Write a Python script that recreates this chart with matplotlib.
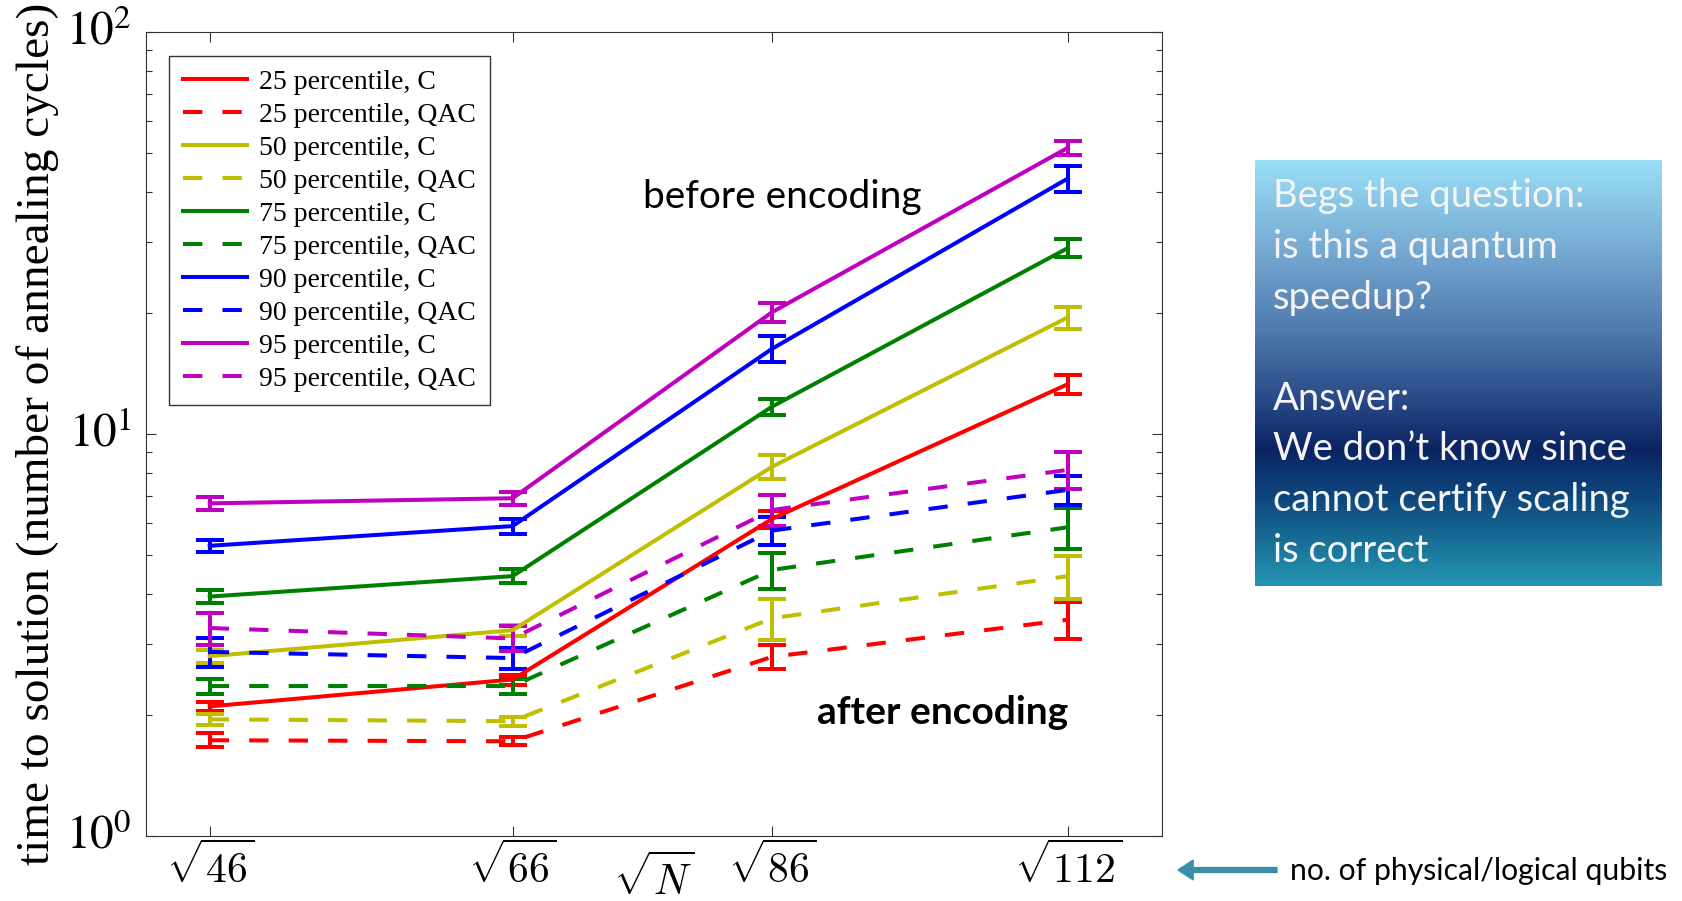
import numpy as np
import matplotlib
matplotlib.use("Agg")
import matplotlib.pyplot as plt
from matplotlib.colors import LinearSegmentedColormap
from matplotlib.ticker import FixedLocator, LogLocator, NullFormatter

# problem sizes (number of qubits) on the sqrt(N) axis
sizes = [46, 66, 86, 112]
size_labels = [r"$\sqrt{46}$", r"$\sqrt{66}$", r"$\sqrt{86}$", r"$\sqrt{112}$"]

percentiles = [25, 50, 75, 90, 95]
colors = ["#ff0000", "#bfbf00", "#008000", "#0000ff", "#bf00bf"]

# time to solution, classical (C) runs
tts_c_25 = [2.10, 2.45, 6.15, 13.3]
tts_c_50 = [2.80, 3.25, 8.29, 19.5]
tts_c_75 = [3.94, 4.43, 11.7, 29.0]
tts_c_90 = [5.27, 5.90, 16.3, 43.2]
tts_c_95 = [6.72, 6.92, 20.1, 51.5]

err_c_25 = [0.06, 0.07, 0.30, 0.75]
err_c_50 = [0.10, 0.10, 0.56, 1.25]
err_c_75 = [0.14, 0.18, 0.55, 1.50]
err_c_90 = [0.19, 0.25, 1.20, 3.10]
err_c_95 = [0.25, 0.27, 1.10, 2.00]

# time to solution, quantum annealing correction (QAC) runs
tts_q_25 = [1.73, 1.72, 2.79, 3.45]
tts_q_50 = [1.95, 1.93, 3.48, 4.43]
tts_q_75 = [2.36, 2.36, 4.59, 5.86]
tts_q_90 = [2.87, 2.77, 5.75, 7.26]
tts_q_95 = [3.29, 3.10, 6.47, 8.14]

err_q_25 = [0.07, 0.04, 0.19, 0.36]
err_q_50 = [0.06, 0.05, 0.40, 0.55]
err_q_75 = [0.10, 0.10, 0.47, 0.68]
err_q_90 = [0.24, 0.17, 0.47, 0.62]
err_q_95 = [0.30, 0.22, 0.58, 0.86]

tts_c = [tts_c_25, tts_c_50, tts_c_75, tts_c_90, tts_c_95]
err_c = [err_c_25, err_c_50, err_c_75, err_c_90, err_c_95]
tts_q = [tts_q_25, tts_q_50, tts_q_75, tts_q_90, tts_q_95]
err_q = [err_q_25, err_q_50, err_q_75, err_q_90, err_q_95]

serif = ["Liberation Serif", "DejaVu Serif"]
sans = ["Lato", "DejaVu Sans"]
plt.rcParams["mathtext.fontset"] = "stix"

fig = plt.figure(figsize=(16.82, 9.01), dpi=100)
ax = fig.add_axes([0.0868, 0.0722, 0.604, 0.8923])

x = np.sqrt(sizes)
lw = 2.9
handles, labels = [], []
for p, col, yc, ec, yq, eq in zip(percentiles, colors, tts_c, err_c, tts_q, err_q):
    c1 = ax.errorbar(x, yc, yerr=ec, color=col, lw=lw, capsize=10, capthick=lw,
                     elinewidth=lw, ls="-")
    c2 = ax.errorbar(x, yq, yerr=eq, color=col, lw=lw, capsize=10, capthick=lw,
                     elinewidth=lw, ls=(0, (4.8, 5)))
    handles += [c1[0], c2[0]]
    labels += [f"{p} percentile, C", f"{p} percentile, QAC"]

ax.set_yscale("log")
ax.set_ylim(1, 100)
ax.set_xlim(6.5, 11.0)

ax.yaxis.set_major_locator(FixedLocator([1, 10, 100]))
ax.yaxis.set_minor_locator(LogLocator(base=10, subs=np.arange(2, 10)))
ax.yaxis.set_minor_formatter(NullFormatter())
ax.set_xticks(x)

ax.tick_params(which="both", direction="in", top=True, right=True,
               color="#333333", width=0.8)
ax.tick_params(which="major", length=7.2)
ax.tick_params(which="minor", length=4.3)
ax.tick_params(axis="y", pad=10, labelsize=34)
ax.tick_params(axis="x", pad=5, labelsize=30)

ax.set_yticklabels([r"$10^{0}$", r"$10^{1}$", r"$10^{2}$"], va="center")
ax.set_xticklabels(size_labels, math_fontfamily="cm")

for s in ax.spines.values():
    s.set_color("#333333")
    s.set_linewidth(0.8)

ax.set_ylabel("time to solution (number of annealing cycles)", family=serif,
              fontsize=34)
ax.yaxis.set_label_coords(-0.086, 0.5)
ax.set_xlabel(r"$\sqrt{N}$", fontsize=30, math_fontfamily="cm")
ax.xaxis.set_label_coords(0.5, -0.024)

leg = ax.legend(handles, labels, loc="upper left",
                bbox_to_anchor=(0.0226, 0.9705), borderaxespad=0,
                prop={"family": serif, "size": 20}, handlelength=2.3,
                handletextpad=0.45, labelspacing=0.27, borderpad=0.5,
                fancybox=False, framealpha=1, edgecolor="#333333")
leg.get_frame().set_linewidth(1.0)

ax.text(0.489, 0.795, "before encoding", transform=ax.transAxes, ha="left",
        va="center", family=sans, fontsize=28)
ax.text(0.660, 0.153, "after encoding", transform=ax.transAxes, ha="left",
        va="center", family=sans, fontsize=28, weight="bold")

# side note on a vertical gradient panel
bx = fig.add_axes([0.7461, 0.3496, 0.2414, 0.4728])
grad_cmap = LinearSegmentedColormap.from_list(
    "panel",
    [(0.0, "#9adff6"), (0.2, "#78acd4"), (0.42, "#4a75a8"), (0.56, "#2a4a88"),
     (0.68, "#0a2462"), (0.8, "#0e4a7e"), (1.0, "#2596b2")])
bx.imshow(np.linspace(0, 1, 256).reshape(-1, 1), aspect="auto", cmap=grad_cmap,
          extent=(0, 1, 0, 1), origin="upper")
bx.set_xlim(0, 1)
bx.set_ylim(0, 1)
bx.axis("off")

note_lines = ["Begs the question:", "is this a quantum", "speedup?", "",
              "Answer:", "We don\u2019t know since", "cannot certify scaling",
              "is correct"]
base0 = 207.5
step = 50.6
for i, line in enumerate(note_lines):
    if line:
        fig.text(1273 / 1682, 1 - (base0 + i * step) / 901, line, ha="left",
                 va="baseline", color="#f4f4f4", family=sans, fontsize=27.5)

# axis caption with arrow below the panel
fig.patches.append(matplotlib.patches.FancyArrow(
    1277 / 1682, 1 - 870 / 901, -99 / 1682, 0, width=0.0055, head_width=0.022,
    head_length=0.009, length_includes_head=True, color="#3a8fa8",
    transform=fig.transFigure, figure=fig))
fig.text(1290 / 1682, 1 - 871 / 901, "no. of physical/logical qubits", ha="left",
         va="center", family=sans, fontsize=21.7)

fig.savefig("out.png", dpi=100)
